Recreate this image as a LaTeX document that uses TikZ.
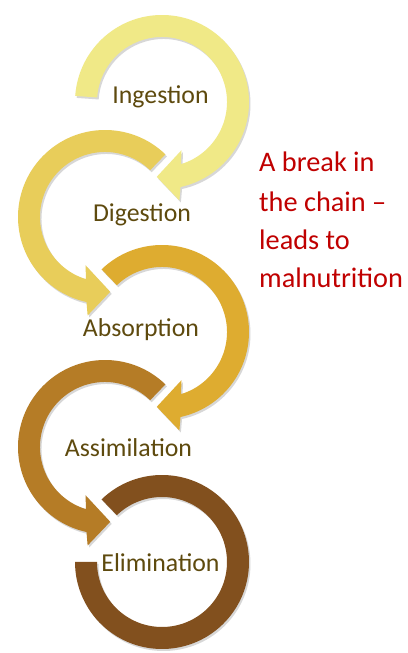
\documentclass[tikz,border=0pt]{standalone}
\usepackage{fontspec}
\setmainfont{Carlito}
\usetikzlibrary{shadows}
\definecolor{colA}{RGB}{240,233,135}
\definecolor{colB}{RGB}{232,205,90}
\definecolor{colC}{RGB}{222,172,48}
\definecolor{colD}{RGB}{181,124,38}
\definecolor{colE}{RGB}{130,80,30}
\definecolor{labelcol}{RGB}{94,74,14}
\definecolor{notecol}{RGB}{192,0,0}
\tikzset{
  ringshadow/.style={drop shadow={shadow xshift=1.5pt, shadow yshift=-2pt, opacity=0.22, fill=black!70}},
  steplabel/.style={text=labelcol, font=\fontsize{25.8}{30}\selectfont, anchor=base, inner sep=0pt},
  noteline/.style={text=notecol, font=\fontsize{28.3}{34}\selectfont, anchor=base west, inner sep=0pt}
}
% clockwise arrow ring: #1 centre, #2 start angle, #3 colour
\newcommand\cwring[3]{%
  \fill[#3, ringshadow, shift={(#1)}] (#2:87pt) arc[start angle=#2, end angle=-77.7, radius=87pt]
    -- (-80:100pt) -- (-94:75pt) -- (-68:52pt) -- (-73:65pt)
    arc[start angle=-73, end angle=#2, radius=65pt] -- cycle;}
% counter-clockwise arrow ring
\newcommand\ccwring[3]{%
  \fill[#3, ringshadow, shift={(#1)}] (#2:87pt) arc[start angle=#2, end angle=257.7, radius=87pt]
    -- (260:100pt) -- (274:75pt) -- (248:52pt) -- (253:65pt)
    arc[start angle=253, end angle=#2, radius=65pt] -- cycle;}
\begin{document}
\begin{tikzpicture}[x=1pt, y=1pt]
\useasboundingbox (0,0) rectangle (407,653);
\fill[white] (0,0) rectangle (407,653);
\coordinate (c1) at (162,551);
\coordinate (c2) at (105,436);
\coordinate (c3) at (162,321);
\coordinate (c4) at (105,206);
\coordinate (c5) at (162,91);
\cwring{c1}{176}{colA}
\ccwring{c2}{46}{colB}
\cwring{c3}{134}{colC}
\ccwring{c4}{46}{colD}
\fill[colE, ringshadow, shift={(c5)}] (134:87pt) arc[start angle=134, end angle=-180, radius=87pt]
  -- (180:65pt) arc[start angle=-180, end angle=134, radius=65pt] -- cycle;
\node[steplabel] (ing) at (160.5,549) {Ingestion};
\node[steplabel] (dig) at (142,431) {Digestion};
\node[steplabel] (abs) at (141,316) {Absorption};
\node[steplabel] (ass) at (128.5,196) {Assimilation};
\node[steplabel] (eli) at (160.5,81) {Elimination};
\node[noteline] (n1) at (259,481) {A break in};
\node[noteline] (n2) at (259,441) {the chain –};
\node[noteline] (n3) at (259,403) {leads to};
\node[noteline] (n4) at (259,365) {malnutrition};
\end{tikzpicture}
\end{document}
